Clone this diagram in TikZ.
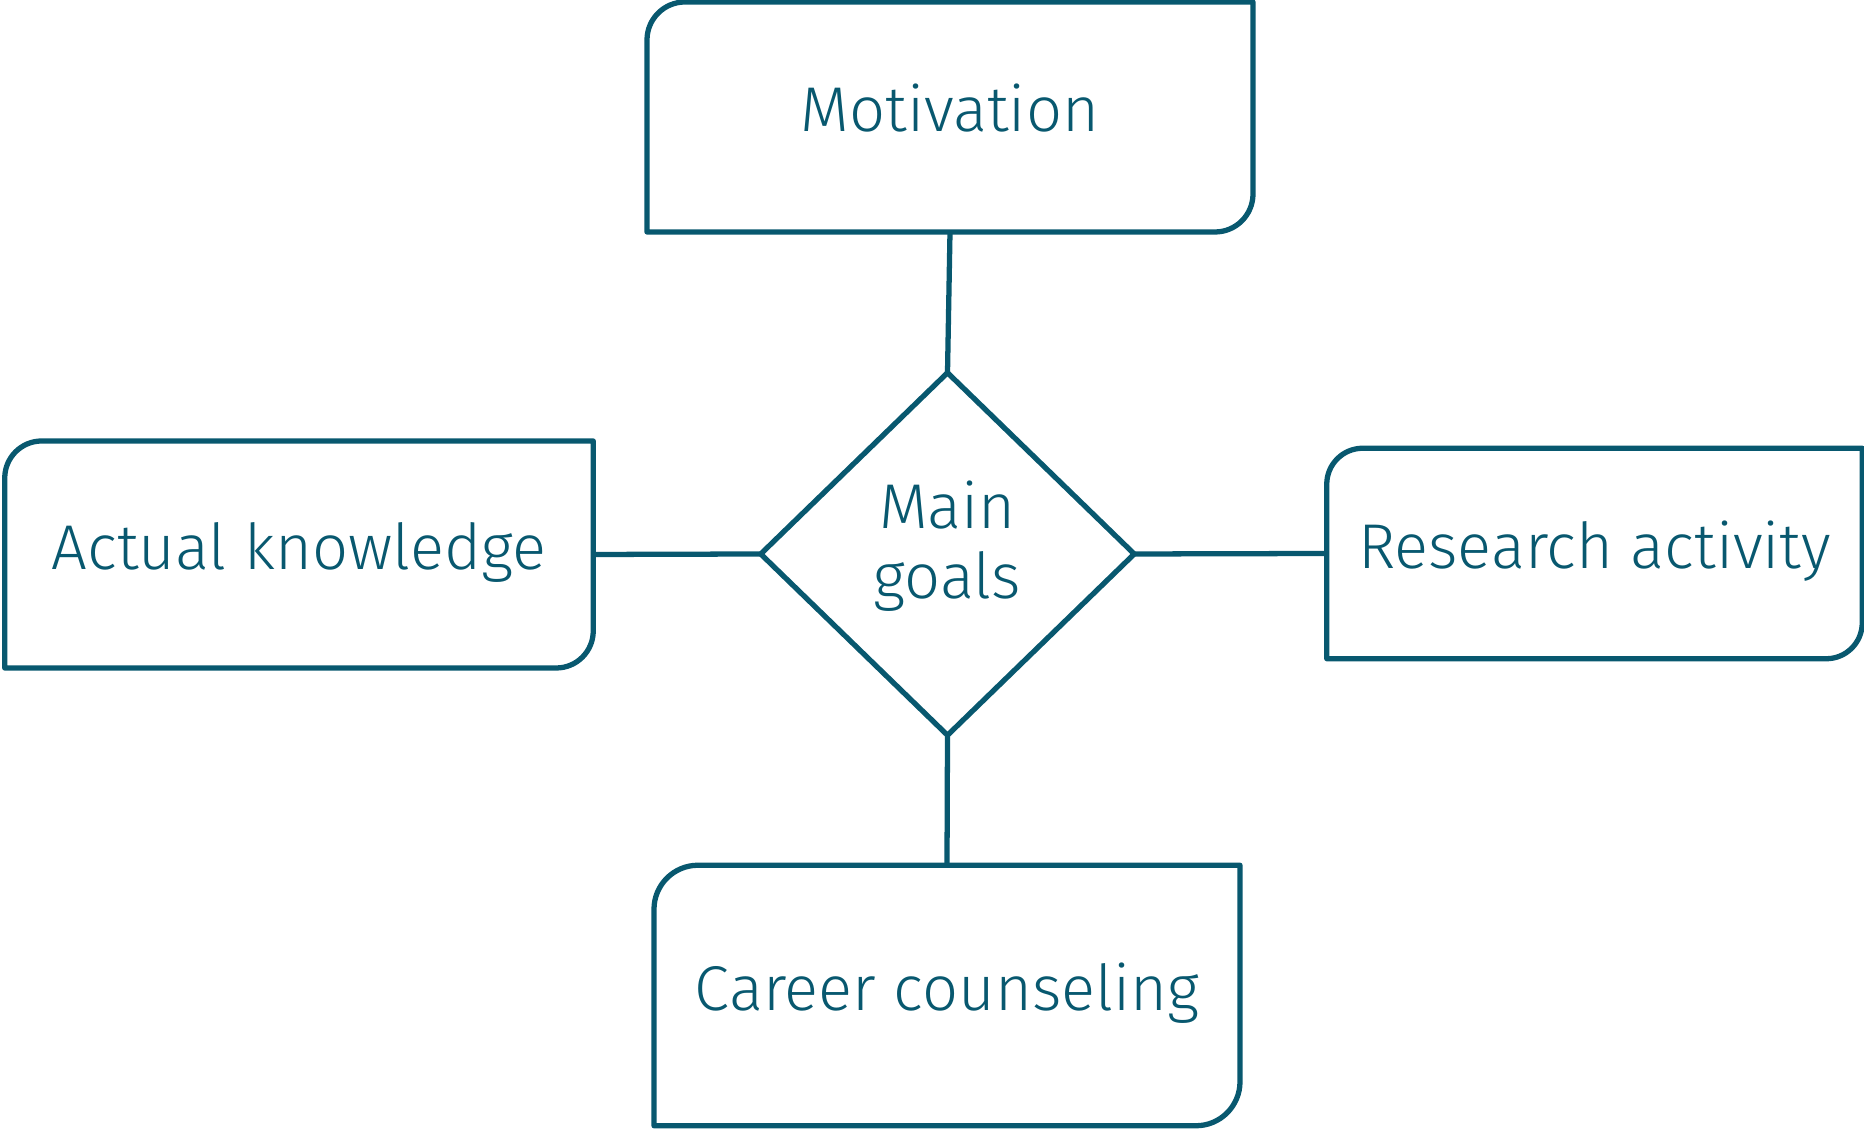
\documentclass[tikz,border=0pt]{standalone}
\usepackage{fontspec}
\setmainfont{Fira Sans Light}
\usetikzlibrary{shapes.geometric}

\definecolor{teal}{HTML}{08586F}

\tikzset{
    rim/.style={draw=teal, line width=3pt, line join=round},
    topic/.style={rectangle, inner sep=0pt, outer sep=0pt, text=teal, text height=0.9cm, text depth=0.3cm,
        font=\fontsize{36}{43}\selectfont},
}

% box with rounded top left and bottom right corners
\newcommand{\tagbox}[2]{\draw[rim] (#1.north east) -- ([yshift=#2]#1.south east)
    arc[start angle=0, end angle=-90, radius=#2] -- (#1.south west)
    -- ([yshift=-#2]#1.north west) arc[start angle=180, end angle=90, radius=#2] -- cycle;}

\begin{document}
\begin{tikzpicture}
    \useasboundingbox (0, 0) rectangle (37.28, 22.58);

    \node[diamond, rim, inner sep=0pt, outer sep=0pt, minimum width=7.47cm, minimum height=7.25cm,
        align=center, text=teal, font=\fontsize{36}{40}\selectfont] (goals) at (18.95, 11.5)
        {Main\\goals\rule[-0.56cm]{0pt}{0pt}};

    \node[topic, minimum width=12.12cm, minimum height=4.6cm] (motiv) at (19.0, 20.24) {Motivation};
    \node[topic, minimum width=11.77cm, minimum height=4.54cm] (know) at (5.98, 11.49) {Actual knowledge};
    \node[topic, minimum width=10.71cm, minimum height=4.21cm] (research) at (31.89, 11.51) {Research activity};
    \node[topic, minimum width=11.72cm, minimum height=5.21cm] (career) at (18.94, 2.67) {Career counseling};

    \tagbox{motiv}{0.76cm}
    \tagbox{know}{0.74cm}
    \tagbox{research}{0.72cm}
    \tagbox{career}{0.88cm}

    \draw[rim] (motiv.south) -- (goals.north);
    \draw[rim] (know.east) -- (goals.west);
    \draw[rim] (goals.east) -- (research.west);
    \draw[rim] (goals.south) -- (career.north);
\end{tikzpicture}
\end{document}
